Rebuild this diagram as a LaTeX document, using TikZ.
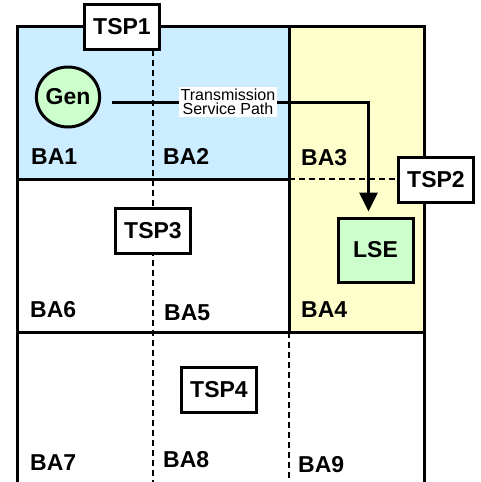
\documentclass[tikz,border=0pt]{standalone}
\usepackage{fontspec}
\setmainfont{Liberation Sans}
\usetikzlibrary{arrows.meta, shapes.geometric}
\definecolor{baBlue}{RGB}{204,236,255}
\definecolor{baYellow}{RGB}{255,255,204}
\definecolor{baGreen}{RGB}{204,255,204}

\begin{document}
\begin{tikzpicture}[x=1pt, y=-1pt,
    bigtext/.style={font=\bfseries\fontsize{23}{25}\selectfont},
    balabel/.style={bigtext, anchor=base west, inner sep=0pt},
    tspbox/.style={draw, line width=3pt, fill=white, bigtext, minimum width=75pt, minimum height=45pt, inner sep=0pt},
    border/.style={line width=3pt},
    tsdash/.style={line width=1.8pt, dash pattern=on 6pt off 4pt}]
    \useasboundingbox (0,0) rectangle (480,482);

    % Areas
    \fill[baBlue] (17,26) rectangle (289,179);
    \fill[baYellow] (289,26) rectangle (424,332);

    % Grid
    \draw[border] (17,482) -- (17,26) -- (424,26) -- (424,482);
    \draw[border] (17,179) -- (289,179);
    \draw[border] (289,26) -- (289,332);
    \draw[border] (17,332) -- (424,332);

    % Dashed boundaries (boxes are drawn over them)
    \coordinate (cutTop) at (153,40);
    \coordinate (cutA) at (153,482);
    \coordinate (cutB) at (289,332);
    \coordinate (cutC) at (289,482);
    \coordinate (cutD) at (289,179);
    \coordinate (cutE) at (410,179);
    \draw[tsdash] (cutTop) -- (cutA);
    \draw[tsdash] (cutB) -- (cutC);
    \draw[tsdash] (cutD) -- (cutE);

    % Nodes
    \node[tspbox] (TSP1) at (122,27) {TSP1};
    \node[tspbox] (TSP2) at (436,180) {TSP2};
    \node[tspbox] (TSP3) at (153,231) {TSP3};
    \node[tspbox] (TSP4) at (219,390) {TSP4};

    \node[draw, ellipse, line width=3pt, fill=baGreen, bigtext, minimum width=57pt, minimum height=60pt, inner sep=0pt] (Gen) at (68,97) {Gen};
    \node[draw, rectangle, line width=3pt, fill=baGreen, bigtext, minimum width=75pt, minimum height=64pt, inner sep=0pt] (LSE) at (375.5,250) {LSE};

    \node[balabel] (BA1) at (31,164) {BA1};
    \node[balabel] (BA2) at (163,164) {BA2};
    \node[balabel] (BA3) at (301,165) {BA3};
    \node[balabel] (BA6) at (30,317) {BA6};
    \node[balabel] (BA5) at (164,320) {BA5};
    \node[balabel] (BA4) at (301,317) {BA4};
    \node[balabel] (BA7) at (30,470) {BA7};
    \node[balabel] (BA8) at (163,467) {BA8};
    \node[balabel] (BA9) at (298,472) {BA9};

    % Arrow (transmission service path)
    \coordinate (pathStart) at ([yshift=-5pt]Gen.east);
    \coordinate (pathEnd) at ([xshift=-7pt]LSE.north);
    \draw[line width=3pt, -{Triangle[width=18pt, length=19pt]}, shorten <=11pt, shorten >=5pt] (pathStart) -| (pathEnd);
    \node[fill=white, inner sep=1.5pt, align=center, font=\fontsize{16}{14.5}\selectfont] (TSPath) at (228,102) {Transmission\\Service Path};

\end{tikzpicture}
\end{document}
